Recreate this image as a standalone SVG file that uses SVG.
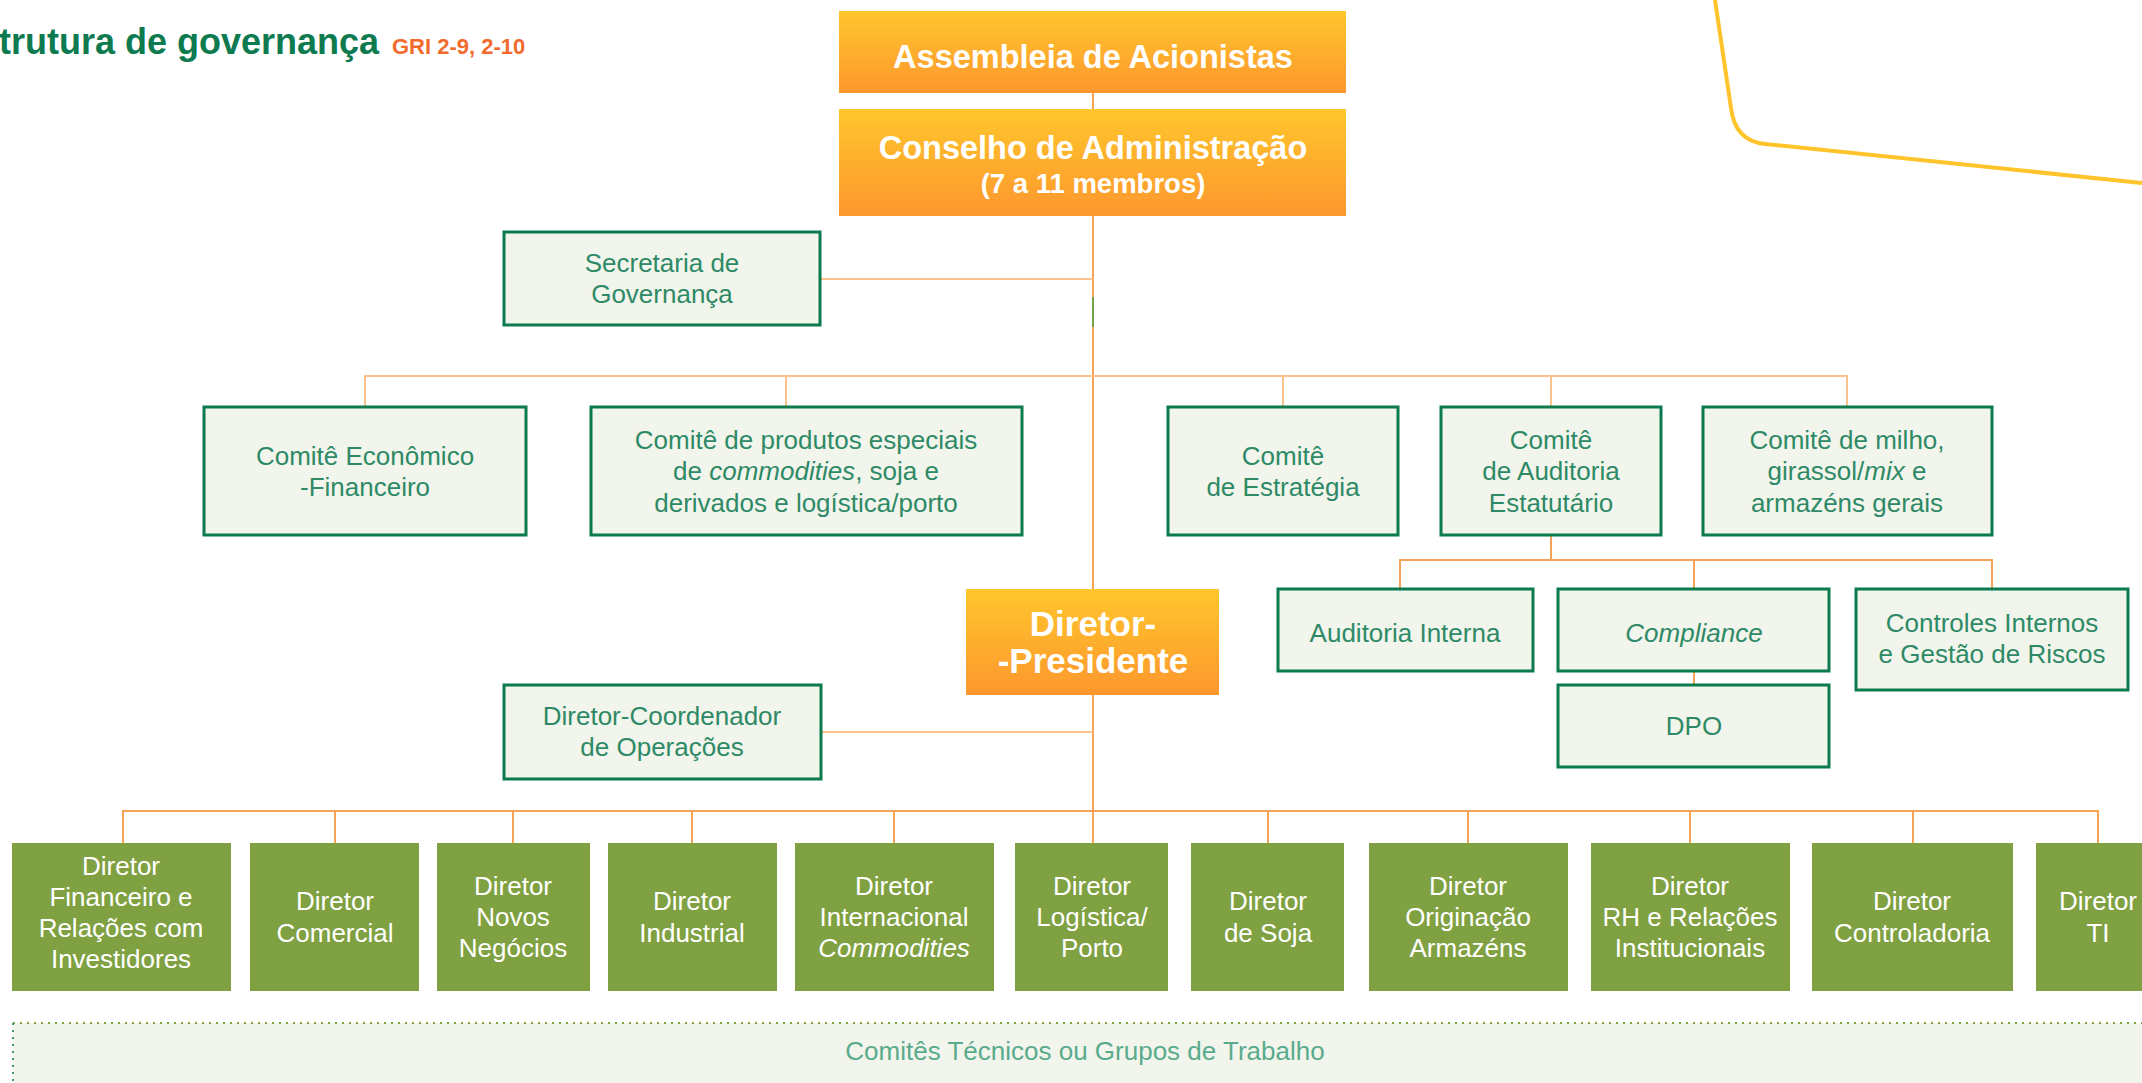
<svg xmlns="http://www.w3.org/2000/svg" width="2142" height="1083" viewBox="0 0 2142 1083">
<defs>
<linearGradient id="og" x1="0" y1="0" x2="0" y2="1">
<stop offset="0" stop-color="#ffc62c"/>
<stop offset="1" stop-color="#fd972e"/>
</linearGradient>
<style>
.hd{fill:url(#og);}
.ht{font-family:"Liberation Sans",Arial,sans-serif;font-weight:bold;fill:#ffffff;text-anchor:middle;}
.cb{fill:#f2f5ec;stroke:#0b7a4e;stroke-width:3;}
.ct{font-family:"Liberation Sans",Arial,sans-serif;font-size:26px;fill:#2e8a66;text-anchor:middle;}
.db{fill:#7fa142;}
.dt{font-family:"Liberation Sans",Arial,sans-serif;font-size:26px;fill:#ffffff;text-anchor:middle;}
.ln{stroke:#f6a257;stroke-width:2;fill:none;}
.lt{stroke:#fbc28e;stroke-width:2;fill:none;}
.it{font-style:italic;}
</style>
</defs>
<rect width="2142" height="1083" fill="#ffffff"/>

<g id="title">
<text x="-1" y="54" font-family="Liberation Sans,Arial,sans-serif" font-weight="bold" font-size="36" fill="#0d7a4f">trutura de governança</text>
<text x="392" y="54" font-family="Liberation Sans,Arial,sans-serif" font-weight="bold" font-size="22" fill="#f26b2c">GRI 2-9, 2-10</text>
</g>

<path d="M1715,0 L1731,108 Q1735,141 1765,144 L2142,183" fill="none" stroke="#ffc42b" stroke-width="4"/>

<g id="connectors">
<line class="ln" x1="1093" y1="93" x2="1093" y2="109"/>
<line class="ln" x1="1093" y1="216" x2="1093" y2="589"/>
<line x1="1093" y1="297" x2="1093" y2="327" stroke="#6fa04a" stroke-width="2"/>
<line class="ln" x1="1093" y1="695" x2="1093" y2="843"/>
<line class="lt" x1="820" y1="279" x2="1093" y2="279"/>
<polyline class="lt" points="365,407 365,376 1847,376 1847,407"/>
<line class="lt" x1="786" y1="376" x2="786" y2="407"/>
<line class="lt" x1="1283" y1="376" x2="1283" y2="407"/>
<line class="lt" x1="1551" y1="376" x2="1551" y2="407"/>
<line class="ln" x1="1551" y1="535" x2="1551" y2="560"/>
<polyline class="ln" points="1400,589 1400,560 1992,560 1992,589"/>
<line class="ln" x1="1694" y1="560" x2="1694" y2="589"/>
<line class="ln" x1="1694" y1="671" x2="1694" y2="685"/>
<line class="lt" x1="821" y1="732" x2="1093" y2="732"/>
<polyline class="ln" points="123,843 123,811 2098,811 2098,843"/>
<line class="ln" x1="335" y1="811" x2="335" y2="843"/>
<line class="ln" x1="513" y1="811" x2="513" y2="843"/>
<line class="ln" x1="692" y1="811" x2="692" y2="843"/>
<line class="ln" x1="894" y1="811" x2="894" y2="843"/>
<line class="ln" x1="1268" y1="811" x2="1268" y2="843"/>
<line class="ln" x1="1468" y1="811" x2="1468" y2="843"/>
<line class="ln" x1="1690" y1="811" x2="1690" y2="843"/>
<line class="ln" x1="1913" y1="811" x2="1913" y2="843"/>
</g>

<g id="assembleia">
<rect class="hd" x="839" y="11" width="507" height="82"/>
<text class="ht" x="1093" y="68" font-size="32.5">Assembleia de Acionistas</text>
</g>
<g id="conselho">
<rect class="hd" x="839" y="109" width="507" height="107"/>
<text class="ht" x="1093" y="159" font-size="32.5">Conselho de Administração</text>
<text class="ht" x="1093" y="193" font-size="27.5">(7 a 11 membros)</text>
</g>
<g id="secretaria">
<rect class="cb" x="504" y="232" width="316" height="93"/>
<text class="ct" x="662" y="272">Secretaria de</text>
<text class="ct" x="662" y="303">Governança</text>
</g>

<g id="comite-economico">
<rect class="cb" x="204" y="407" width="322" height="128"/>
<text class="ct" x="365" y="465">Comitê Econômico</text>
<text class="ct" x="365" y="496">-Financeiro</text>
</g>
<g id="comite-produtos">
<rect class="cb" x="591" y="407" width="431" height="128"/>
<text class="ct" x="806" y="449">Comitê de produtos especiais</text>
<text class="ct" x="806" y="480">de <tspan class="it">commodities</tspan>, soja e</text>
<text class="ct" x="806" y="512">derivados e logística/porto</text>
</g>
<g id="comite-estrategia">
<rect class="cb" x="1168" y="407" width="230" height="128"/>
<text class="ct" x="1283" y="465">Comitê</text>
<text class="ct" x="1283" y="496">de Estratégia</text>
</g>
<g id="comite-auditoria">
<rect class="cb" x="1441" y="407" width="220" height="128"/>
<text class="ct" x="1551" y="449">Comitê</text>
<text class="ct" x="1551" y="480">de Auditoria</text>
<text class="ct" x="1551" y="512">Estatutário</text>
</g>
<g id="comite-milho">
<rect class="cb" x="1703" y="407" width="289" height="128"/>
<text class="ct" x="1847" y="449">Comitê de milho,</text>
<text class="ct" x="1847" y="480">girassol/<tspan class="it">mix</tspan> e</text>
<text class="ct" x="1847" y="512">armazéns gerais</text>
</g>

<g id="auditoria-interna">
<rect class="cb" x="1278" y="589" width="255" height="82"/>
<text class="ct" x="1405" y="642">Auditoria Interna</text>
</g>
<g id="compliance">
<rect class="cb" x="1558" y="589" width="271" height="82"/>
<text class="ct it" x="1694" y="642">Compliance</text>
</g>
<g id="dpo">
<rect class="cb" x="1558" y="685" width="271" height="82"/>
<text class="ct" x="1694" y="735">DPO</text>
</g>
<g id="controles">
<rect class="cb" x="1856" y="589" width="272" height="101"/>
<text class="ct" x="1992" y="632">Controles Internos</text>
<text class="ct" x="1992" y="663">e Gestão de Riscos</text>
</g>

<g id="diretor-presidente">
<rect class="hd" x="966" y="589" width="253" height="106"/>
<text class="ht" x="1093" y="636" font-size="35">Diretor-</text>
<text class="ht" x="1093" y="673" font-size="35">-Presidente</text>
</g>
<g id="diretor-coordenador">
<rect class="cb" x="504" y="685" width="317" height="94"/>
<text class="ct" x="662" y="725">Diretor-Coordenador</text>
<text class="ct" x="662" y="756">de Operações</text>
</g>

<g id="dir-financeiro">
<rect class="db" x="12" y="843" width="219" height="148"/>
<text class="dt" x="121" y="875">Diretor</text>
<text class="dt" x="121" y="906">Financeiro e</text>
<text class="dt" x="121" y="937">Relações com</text>
<text class="dt" x="121" y="968">Investidores</text>
</g>
<g id="dir-comercial">
<rect class="db" x="250" y="843" width="169" height="148"/>
<text class="dt" x="335" y="910">Diretor</text>
<text class="dt" x="335" y="942">Comercial</text>
</g>
<g id="dir-novos">
<rect class="db" x="437" y="843" width="153" height="148"/>
<text class="dt" x="513" y="895">Diretor</text>
<text class="dt" x="513" y="926">Novos</text>
<text class="dt" x="513" y="957">Negócios</text>
</g>
<g id="dir-industrial">
<rect class="db" x="608" y="843" width="169" height="148"/>
<text class="dt" x="692" y="910">Diretor</text>
<text class="dt" x="692" y="942">Industrial</text>
</g>
<g id="dir-internacional">
<rect class="db" x="795" y="843" width="199" height="148"/>
<text class="dt" x="894" y="895">Diretor</text>
<text class="dt" x="894" y="926">Internacional</text>
<text class="dt it" x="894" y="957">Commodities</text>
</g>
<g id="dir-logistica">
<rect class="db" x="1015" y="843" width="153" height="148"/>
<text class="dt" x="1092" y="895">Diretor</text>
<text class="dt" x="1092" y="926">Logística/</text>
<text class="dt" x="1092" y="957">Porto</text>
</g>
<g id="dir-soja">
<rect class="db" x="1191" y="843" width="153" height="148"/>
<text class="dt" x="1268" y="910">Diretor</text>
<text class="dt" x="1268" y="942">de Soja</text>
</g>
<g id="dir-originacao">
<rect class="db" x="1369" y="843" width="199" height="148"/>
<text class="dt" x="1468" y="895">Diretor</text>
<text class="dt" x="1468" y="926">Originação</text>
<text class="dt" x="1468" y="957">Armazéns</text>
</g>
<g id="dir-rh">
<rect class="db" x="1591" y="843" width="199" height="148"/>
<text class="dt" x="1690" y="895">Diretor</text>
<text class="dt" x="1690" y="926">RH e Relações</text>
<text class="dt" x="1690" y="957">Institucionais</text>
</g>
<g id="dir-controladoria">
<rect class="db" x="1812" y="843" width="201" height="148"/>
<text class="dt" x="1912" y="910">Diretor</text>
<text class="dt" x="1912" y="942">Controladoria</text>
</g>
<g id="dir-ti">
<rect class="db" x="2036" y="843" width="130" height="148"/>
<text class="dt" x="2098" y="910">Diretor</text>
<text class="dt" x="2098" y="942">TI</text>
</g>

<g id="comites-tecnicos">
<rect x="13" y="1023" width="2140" height="70" fill="#f2f5ec"/>
<line x1="13" y1="1023" x2="2142" y2="1023" stroke="#7ea341" stroke-width="2" stroke-dasharray="2,5"/>
<line x1="13" y1="1023" x2="13" y2="1083" stroke="#3f9a6e" stroke-width="2" stroke-dasharray="2,5"/>
<text x="1085" y="1060" font-family="Liberation Sans,Arial,sans-serif" font-size="26" fill="#5aab8c" text-anchor="middle">Comitês Técnicos ou Grupos de Trabalho</text>
</g>
</svg>
